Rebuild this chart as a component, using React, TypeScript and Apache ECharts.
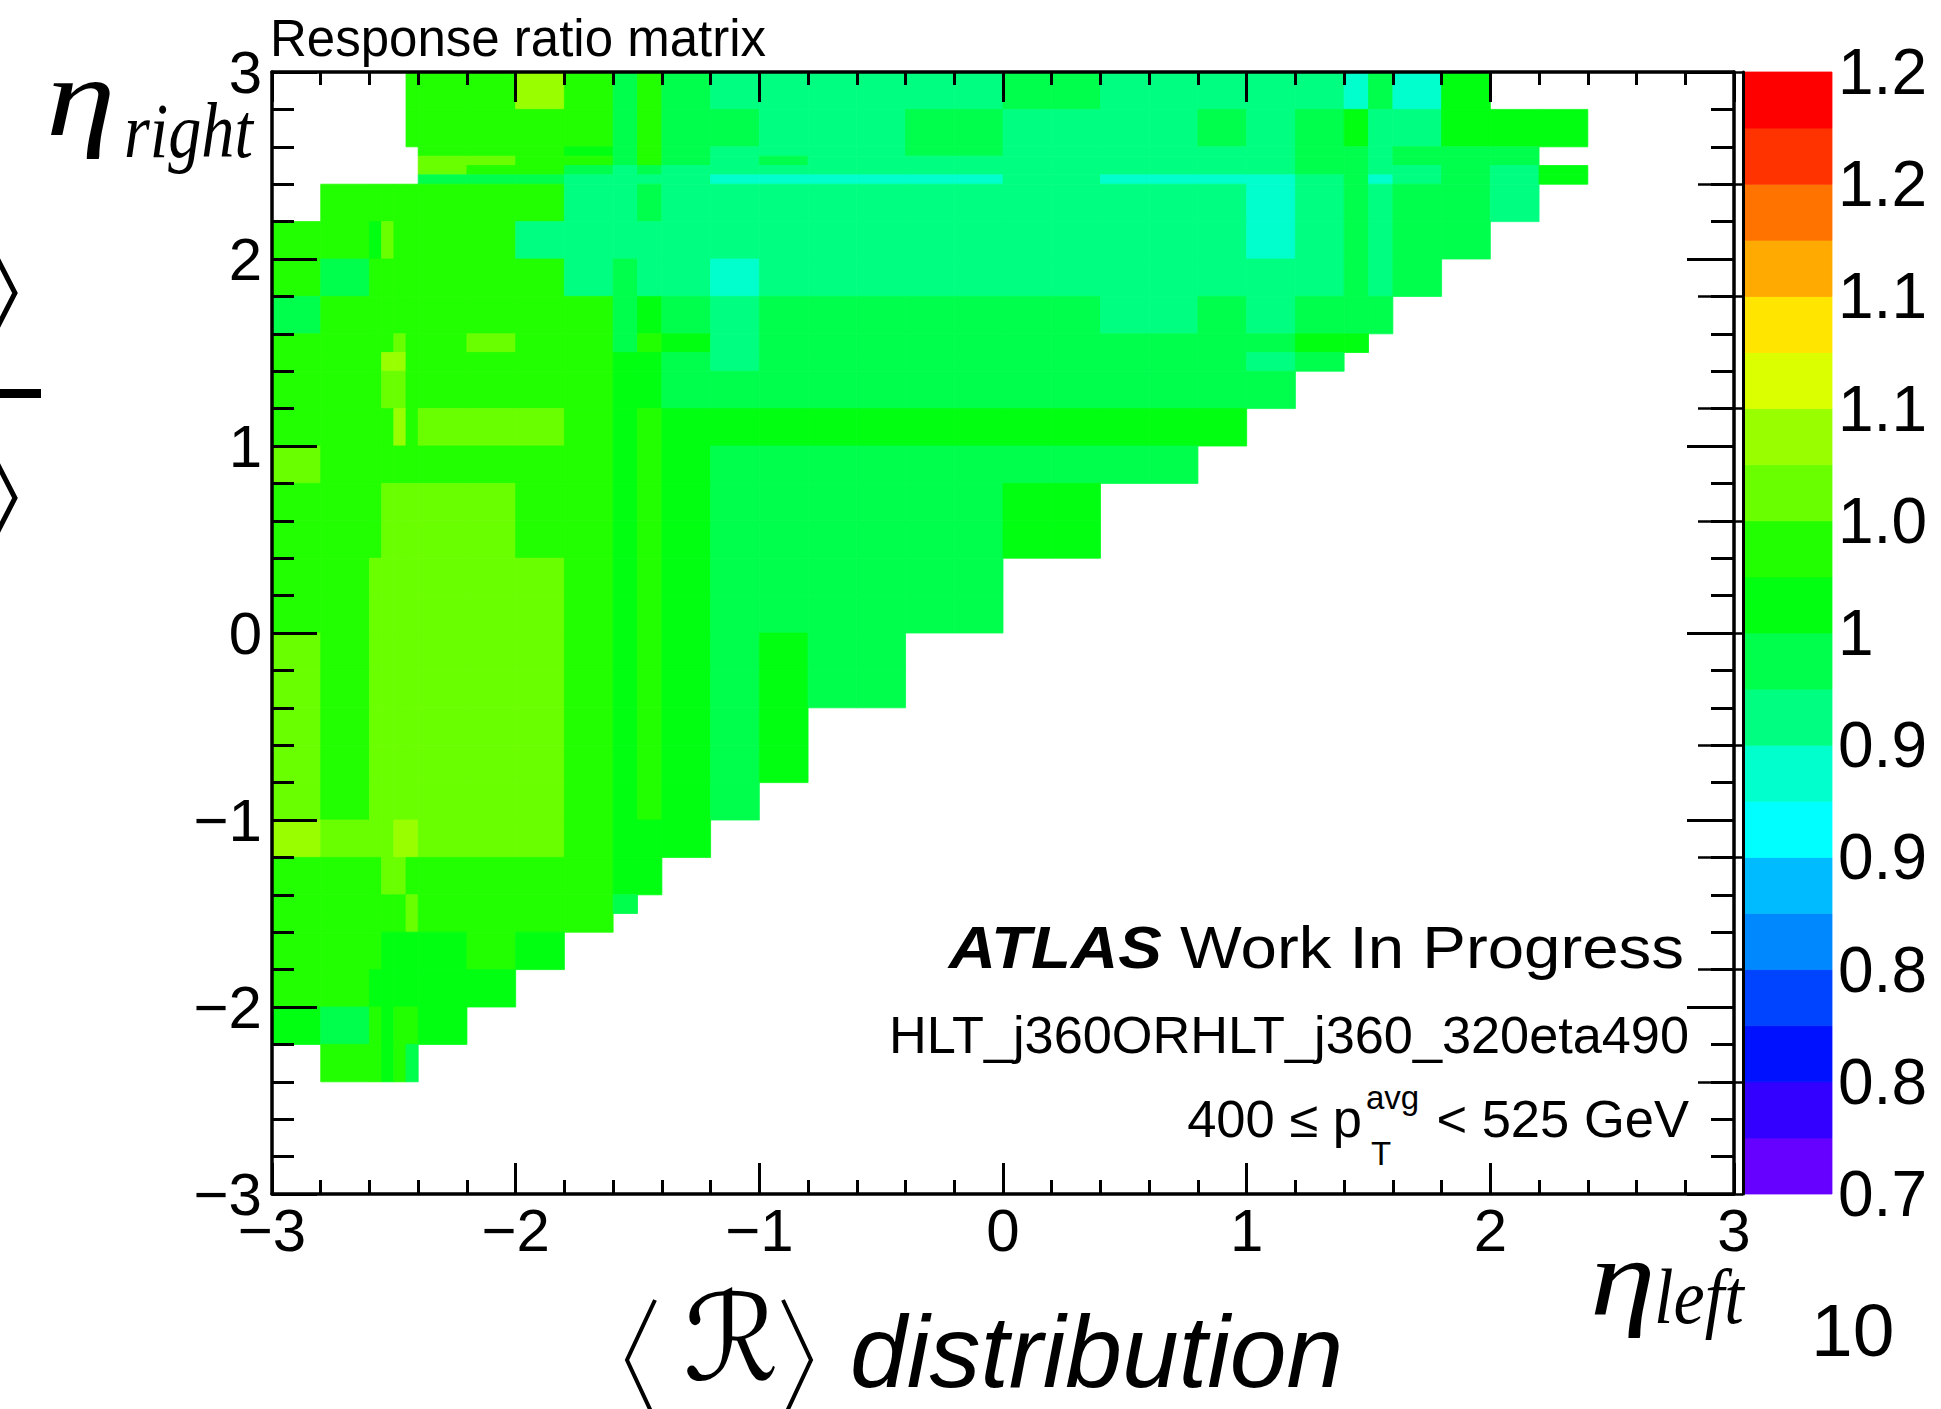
import React, { useEffect, useRef } from "react";
import * as echarts from "echarts";

// Bin edges of eta (same for eta_left and eta_right)
const ETA_EDGES = [
  -3.0, -2.8, -2.6, -2.55, -2.5, -2.45, -2.4, -2.2, -2.0, -1.8, -1.6, -1.5, -1.4,
  -1.2, -1.0, -0.8, -0.6, -0.4, -0.2, 0, 0.2, 0.4, 0.6, 0.8, 1.0, 1.2, 1.4, 1.5,
  1.6, 1.8, 2.0, 2.2, 2.4, 2.45, 2.5, 2.55, 2.6, 2.8, 3.0,
];

const n = null;
// Response ratio per cell; rows listed from eta_right = 3.0 (top) downwards,
// columns from eta_left = -3.0 rightwards (index = bin of ETA_EDGES)
const RATIO_ROWS: (number | null)[][] = [
  /* 2.8..3.0 */ [n, n, n, n, n, 1.038, 1.038, 1.038, 1.088, 1.038, 0.988, 1.038, 0.988, 0.963, 0.963, 0.963, 0.963, 0.963, 0.963, 0.988, 0.988, 0.963, 0.963, 0.963, 0.963, 0.963, 0.938, 0.988, 0.938, 1.013],
  /* 2.6..2.8 */ [n, n, n, n, n, 1.038, 1.038, 1.038, 1.038, 1.038, 0.988, 1.038, 0.988, 0.988, 0.963, 0.963, 0.963, 0.988, 0.988, 0.963, 0.963, 0.963, 0.963, 0.988, 0.963, 0.988, 1.013, 0.963, 0.963, 1.013, 1.013, 1.013],
  /* 2.55..2.6 */ [n, n, n, n, n, n, 1.038, 1.038, 1.038, 1.013, 0.988, 1.038, 0.988, 0.963, 0.963, 0.963, 0.963, 0.988, 0.988, 0.963, 0.963, 0.963, 0.963, 0.963, 0.963, 0.988, 0.988, 0.963, 0.988, 0.988, 0.988],
  /* 2.5..2.55 */ [n, n, n, n, n, n, 1.063, 1.063, 1.038, 1.038, 0.988, 1.038, 0.988, 0.963, 0.988, 0.963, 0.963, 0.963, 0.963, 0.963, 0.963, 0.963, 0.963, 0.963, 0.963, 0.988, 0.988, 0.963, 0.988, 0.988, 0.988],
  /* 2.45..2.5 */ [n, n, n, n, n, n, 1.063, 1.038, 1.038, 0.988, 0.963, 0.988, 0.963, 0.963, 0.963, 0.963, 0.963, 0.963, 0.963, 0.963, 0.963, 0.963, 0.963, 0.963, 0.963, 0.988, 0.988, 0.963, 0.963, 0.988, 0.963, 1.013],
  /* 2.4..2.45 */ [n, n, n, n, n, n, 0.988, 0.988, 0.988, 0.963, 0.963, 0.963, 0.963, 0.938, 0.938, 0.938, 0.938, 0.938, 0.938, 0.963, 0.963, 0.938, 0.938, 0.938, 0.938, 0.963, 0.988, 0.938, 0.963, 0.988, 0.963, 1.013],
  /* 2.2..2.4 */ [n, 1.038, 1.038, 1.038, 1.038, 1.038, 1.038, 1.038, 1.038, 0.963, 0.963, 0.988, 0.963, 0.963, 0.963, 0.963, 0.963, 0.963, 0.963, 0.963, 0.963, 0.963, 0.963, 0.963, 0.938, 0.963, 0.988, 0.963, 0.988, 0.988, 0.963],
  /* 2.0..2.2 */ [1.038, 1.038, 1.013, 1.063, 1.038, 1.038, 1.038, 1.038, 0.963, 0.963, 0.963, 0.963, 0.963, 0.963, 0.963, 0.963, 0.963, 0.963, 0.963, 0.963, 0.963, 0.963, 0.963, 0.963, 0.938, 0.963, 0.988, 0.963, 0.988, 0.988],
  /* 1.8..2.0 */ [1.038, 0.988, 1.038, 1.038, 1.038, 1.038, 1.038, 1.038, 1.038, 0.963, 0.988, 0.963, 0.963, 0.938, 0.963, 0.963, 0.963, 0.963, 0.963, 0.963, 0.963, 0.963, 0.963, 0.963, 0.963, 0.963, 0.988, 0.963, 0.988],
  /* 1.6..1.8 */ [0.988, 1.038, 1.038, 1.038, 1.038, 1.038, 1.038, 1.038, 1.038, 1.038, 0.988, 1.013, 0.988, 0.963, 0.988, 0.988, 0.988, 0.988, 0.988, 0.988, 0.988, 0.963, 0.963, 0.988, 0.963, 0.988, 0.988, 0.988],
  /* 1.5..1.6 */ [1.038, 1.038, 1.038, 1.038, 1.063, 1.038, 1.038, 1.063, 1.038, 1.038, 0.988, 1.038, 1.013, 0.963, 0.988, 0.988, 0.988, 0.988, 0.988, 0.988, 0.988, 0.988, 0.988, 0.988, 0.988, 1.013, 1.013],
  /* 1.4..1.5 */ [1.038, 1.038, 1.038, 1.088, 1.088, 1.038, 1.038, 1.038, 1.038, 1.038, 1.013, 1.013, 0.988, 0.963, 0.988, 0.988, 0.988, 0.988, 0.988, 0.988, 0.988, 0.988, 0.988, 0.988, 0.963, 0.988],
  /* 1.2..1.4 */ [1.038, 1.038, 1.038, 1.063, 1.063, 1.038, 1.038, 1.038, 1.038, 1.038, 1.013, 1.013, 0.988, 0.988, 0.988, 0.988, 0.988, 0.988, 0.988, 0.988, 0.988, 0.988, 0.988, 0.988, 0.988],
  /* 1.0..1.2 */ [1.038, 1.038, 1.038, 1.038, 1.088, 1.038, 1.063, 1.063, 1.063, 1.038, 1.013, 1.038, 1.013, 1.013, 1.013, 1.013, 1.013, 1.013, 1.013, 1.013, 1.013, 1.013, 1.013, 1.013],
  /* 0.8..1.0 */ [1.063, 1.038, 1.038, 1.038, 1.038, 1.038, 1.038, 1.038, 1.038, 1.038, 1.013, 1.038, 1.013, 0.988, 0.988, 0.988, 0.988, 0.988, 0.988, 0.988, 0.988, 0.988, 0.988],
  /* 0.6..0.8 */ [1.038, 1.038, 1.038, 1.063, 1.063, 1.063, 1.063, 1.063, 1.038, 1.038, 1.013, 1.038, 1.013, 0.988, 0.988, 0.988, 0.988, 0.988, 0.988, 1.013, 1.013],
  /* 0.4..0.6 */ [1.038, 1.038, 1.038, 1.063, 1.063, 1.063, 1.063, 1.063, 1.038, 1.038, 1.013, 1.038, 1.013, 0.988, 0.988, 0.988, 0.988, 0.988, 0.988, 1.013, 1.013],
  /* 0.2..0.4 */ [1.038, 1.038, 1.063, 1.063, 1.063, 1.063, 1.063, 1.063, 1.063, 1.038, 1.013, 1.038, 1.013, 0.988, 0.988, 0.988, 0.988, 0.988, 0.988],
  /* 0.0..0.2 */ [1.038, 1.038, 1.063, 1.063, 1.063, 1.063, 1.063, 1.063, 1.063, 1.038, 1.013, 1.038, 1.013, 0.988, 0.988, 0.988, 0.988, 0.988, 0.988],
  /* -0.2..0 */ [1.063, 1.038, 1.063, 1.063, 1.063, 1.063, 1.063, 1.063, 1.063, 1.038, 1.013, 1.038, 1.013, 0.988, 1.013, 0.988, 0.988],
  /* -0.4..-0.2 */ [1.063, 1.038, 1.063, 1.063, 1.063, 1.063, 1.063, 1.063, 1.063, 1.038, 1.013, 1.038, 1.013, 0.988, 1.013, 0.988, 0.988],
  /* -0.6..-0.4 */ [1.063, 1.038, 1.063, 1.063, 1.063, 1.063, 1.063, 1.063, 1.063, 1.038, 1.013, 1.038, 1.013, 0.988, 1.013],
  /* -0.8..-0.6 */ [1.063, 1.038, 1.063, 1.063, 1.063, 1.063, 1.063, 1.063, 1.063, 1.038, 1.013, 1.038, 1.013, 0.988, 1.013],
  /* -1.0..-0.8 */ [1.063, 1.038, 1.063, 1.063, 1.063, 1.063, 1.063, 1.063, 1.063, 1.038, 1.013, 1.038, 1.013, 0.988],
  /* -1.2..-1.0 */ [1.088, 1.063, 1.063, 1.063, 1.088, 1.088, 1.063, 1.063, 1.063, 1.038, 1.013, 1.013, 1.013],
  /* -1.4..-1.2 */ [1.038, 1.038, 1.038, 1.063, 1.063, 1.038, 1.038, 1.038, 1.038, 1.038, 1.013, 1.013],
  /* -1.5..-1.4 */ [1.038, 1.038, 1.038, 1.038, 1.038, 1.063, 1.038, 1.038, 1.038, 1.038, 0.988],
  /* -1.6..-1.5 */ [1.038, 1.038, 1.038, 1.038, 1.038, 1.063, 1.038, 1.038, 1.038, 1.038],
  /* -1.8..-1.6 */ [1.038, 1.038, 1.038, 1.013, 1.013, 1.013, 1.013, 1.038, 1.013],
  /* -2.0..-1.8 */ [1.038, 1.038, 1.013, 1.013, 1.013, 1.013, 1.013, 1.013],
  /* -2.2..-2.0 */ [1.013, 0.988, 1.038, 1.013, 1.038, 1.038, 1.013],
  /* -2.4..-2.2 */ [n, 1.038, 1.038, 1.013, 1.038, 0.988],
];

// Colour palette: 20 contour bands between 0.75 and 1.25 (bottom to top)
const BAND_EDGES = [
  0.75, 0.775, 0.8, 0.825, 0.85, 0.875, 0.9, 0.925, 0.95, 0.975, 1.0, 1.025, 1.05,
  1.075, 1.1, 1.125, 1.15, 1.175, 1.2, 1.225, 1.25,
];
const BAND_COLORS = [
  "#6600ff", "#3300ff", "#0011ff", "#0044ff", "#0088ff", "#00bbff", "#00ffff",
  "#00ffcc", "#00ff80", "#00ff4c", "#00ff11", "#22ff00", "#6aff00", "#99ff00",
  "#dcff00", "#ffe500", "#ffaa00", "#ff7300", "#ff3300", "#ff0000",
];
const COLORBAR_TICKS = [0.75, 0.8, 0.85, 0.9, 0.95, 1.0, 1.05, 1.1, 1.15, 1.2, 1.25];
const COLORBAR_LABELS = ["0.7", "0.8", "0.8", "0.9", "0.9", "1", "1.0", "1.1", "1.1", "1.2", "1.2"];
const AXIS_TICKS = [-3, -2, -1, 0, 1, 2, 3];
const AXIS_LABELS = ["\u22123", "\u22122", "\u22121", "0", "1", "2", "3"];

const SANS = '"Liberation Sans", Arial, Helvetica, sans-serif';
const SERIF = '"Liberation Serif", "Times New Roman", serif';

function bandColor(v: number): string {
  for (let i = 0; i < BAND_COLORS.length; i++) {
    if (v >= BAND_EDGES[i] && v < BAND_EDGES[i + 1]) return BAND_COLORS[i];
  }
  return v < BAND_EDGES[0] ? BAND_COLORS[0] : BAND_COLORS[BAND_COLORS.length - 1];
}

function axisLabel(v: number): string {
  const i = AXIS_TICKS.findIndex((t) => Math.abs(t - v) < 1e-6);
  return i >= 0 ? AXIS_LABELS[i] : "";
}

function colorbarLabel(v: number): string {
  const i = COLORBAR_TICKS.findIndex((t) => Math.abs(t - v) < 1e-6);
  return i >= 0 ? COLORBAR_LABELS[i] : "";
}

function buildCells() {
  const nb = ETA_EDGES.length - 1;
  const cells: number[][] = [];
  RATIO_ROWS.forEach((row, i) => {
    const b = nb - 1 - i;
    row.forEach((v, c) => {
      if (v === null || v === undefined) return;
      cells.push([ETA_EDGES[c], ETA_EDGES[c + 1], ETA_EDGES[b], ETA_EDGES[b + 1], v]);
    });
  });
  return cells;
}

function buildBands() {
  return BAND_COLORS.map((_, i) => [0, 1, BAND_EDGES[i], BAND_EDGES[i + 1], i]);
}

const rectItem = (api: any, x0: number, x1: number, y0: number, y1: number, color: string) => {
  const p0 = api.coord([x0, y1]);
  const p1 = api.coord([x1, y0]);
  return {
    type: "rect",
    shape: { x: p0[0], y: p0[1], width: p1[0] - p0[0], height: p1[1] - p0[1] },
    style: { fill: color, stroke: color, lineWidth: 0.8 },
  };
};

const frameAxis = (extra: any) => ({
  type: "value",
  min: -3,
  max: 3,
  interval: 1,
  z: 10,
  axisLine: { show: true, onZero: false, lineStyle: { color: "#000", width: 3.5 } },
  splitLine: { show: false },
  ...extra,
});

const txt = (x: number, y: number, text: string, font: any, align = "left", extra: any = {}) => ({
  type: "text",
  x,
  y,
  ...extra,
  style: {
    text,
    fill: "#000",
    align,
    textAlign: align,
    verticalAlign: "middle",
    textVerticalAlign: "middle",
    ...font,
  },
});

export default function App() {
  const ref = useRef<HTMLDivElement>(null);

  useEffect(() => {
    if (!ref.current) return;
    const chart = echarts.init(ref.current, undefined, { renderer: "svg" });
    const labelStyle = { fontFamily: SANS, fontSize: 60, lineHeight: 48, color: "#000" };

    const option: any = {
      animation: false,
      backgroundColor: "#ffffff",
      grid: [
        { left: 272, top: 72, width: 1462, height: 1122 },
        { left: 1743, top: 72, width: 89, height: 1122 },
      ],
      xAxis: [
        frameAxis({
          gridIndex: 0,
          position: "bottom",
          axisTick: { show: true, inside: true, length: 31, lineStyle: { color: "#000", width: 3 } },
          minorTick: { show: true, splitNumber: 5, length: 14, lineStyle: { color: "#000", width: 3 } },
          axisLabel: { ...labelStyle, margin: 12, showMinLabel: true, showMaxLabel: true, formatter: axisLabel },
        }),
        frameAxis({
          gridIndex: 0,
          position: "top",
          axisTick: { show: true, inside: true, length: 30, lineStyle: { color: "#000", width: 3 } },
          minorTick: { show: true, splitNumber: 5, length: 13, lineStyle: { color: "#000", width: 3 } },
          axisLabel: { show: false },
        }),
        { gridIndex: 1, type: "value", min: 0, max: 1, show: false },
      ],
      yAxis: [
        frameAxis({
          gridIndex: 0,
          position: "left",
          axisTick: { show: true, inside: true, length: 45, lineStyle: { color: "#000", width: 3 } },
          minorTick: { show: true, splitNumber: 5, length: 22, lineStyle: { color: "#000", width: 3 } },
          axisLabel: { ...labelStyle, margin: 10, showMinLabel: true, showMaxLabel: true, formatter: axisLabel },
        }),
        frameAxis({
          gridIndex: 0,
          position: "right",
          axisTick: { show: true, inside: true, length: 47, lineStyle: { color: "#000", width: 3 } },
          minorTick: { show: true, splitNumber: 5, length: 23, lineStyle: { color: "#000", width: 3 } },
          axisLabel: { show: false },
        }),
        {
          gridIndex: 1,
          type: "value",
          position: "right",
          min: 0.75,
          max: 1.25,
          interval: 0.05,
          z: 10,
          axisLine: { show: true, lineStyle: { color: "#000", width: 3 } },
          axisTick: { show: true, inside: true, length: 45, lineStyle: { color: "#000", width: 2.5 } },
          splitLine: { show: false },
          axisLabel: { ...labelStyle, fontSize: 64, margin: 6, showMinLabel: true, showMaxLabel: true, formatter: colorbarLabel },
        },
      ],
      series: [
        {
          type: "custom",
          name: "ratio",
          xAxisIndex: 0,
          yAxisIndex: 0,
          clip: true,
          z: 2,
          encode: { x: [0, 1], y: [2, 3] },
          data: buildCells(),
          renderItem: (_p: any, api: any) =>
            rectItem(api, api.value(0), api.value(1), api.value(2), api.value(3), bandColor(api.value(4))),
        },
        {
          type: "custom",
          name: "palette",
          xAxisIndex: 2,
          yAxisIndex: 2,
          z: 2,
          encode: { x: [0, 1], y: [2, 3] },
          data: buildBands(),
          renderItem: (_p: any, api: any) =>
            rectItem(api, api.value(0), api.value(1), api.value(2), api.value(3), BAND_COLORS[api.value(4)]),
        },
      ],
      graphic: [
        // title
        txt(270, 38, "Response ratio matrix", { fontFamily: SANS, fontSize: 51, lineHeight: 44 }),
        // slide fragments on the left edge
        { type: "polyline", shape: { points: [[-3, 258], [15, 293], [-3, 328]] }, style: { stroke: "#000", lineWidth: 5, fill: null } },
        { type: "rect", shape: { x: 0, y: 389, width: 41, height: 9 }, style: { fill: "#000" } },
        { type: "polyline", shape: { points: [[-3, 463], [15, 498], [-3, 533]] }, style: { stroke: "#000", lineWidth: 5, fill: null } },
        // eta_right
        txt(46, 97, "\u03b7", { fontFamily: SERIF, fontStyle: "italic", fontSize: 112, lineHeight: 70 }, "left", { scaleX: 1.25 }),
        txt(124, 131, "right", { fontFamily: SERIF, fontStyle: "italic", fontSize: 78, lineHeight: 54 }, "left", { scaleX: 0.85 }),
        // eta_left
        txt(1590, 1278, "\u03b7", { fontFamily: SERIF, fontStyle: "italic", fontSize: 110, lineHeight: 70 }, "left", { scaleX: 1.2 }),
        txt(1654, 1297, "left", { fontFamily: SERIF, fontStyle: "italic", fontSize: 78, lineHeight: 54 }, "left", { scaleX: 0.9 }),
        // annotations
        {
          type: "text",
          x: 1684,
          y: 947,
          scaleX: 1.09,
          style: {
            text: "{b|ATLAS} Work In Progress",
            fill: "#000",
            align: "right",
            textAlign: "right",
            verticalAlign: "middle",
            textVerticalAlign: "middle",
            fontFamily: SANS,
            fontSize: 60,
            rich: { b: { fontFamily: SANS, fontSize: 60, fontWeight: "bold", fontStyle: "italic", fill: "#000" } },
          },
        },
        txt(1689, 1035, "HLT_j360ORHLT_j360_320eta490", { fontFamily: SANS, fontSize: 51 }, "right", { scaleX: 1.025 }),
        txt(1362, 1119, "400 \u2264 p", { fontFamily: SANS, fontSize: 51 }, "right", { scaleX: 1.03 }),
        txt(1366, 1097, "avg", { fontFamily: SANS, fontSize: 33 }),
        txt(1371, 1153, "T", { fontFamily: SANS, fontSize: 33 }),
        txt(1689, 1119, "< 525 GeV", { fontFamily: SANS, fontSize: 51 }, "right", { scaleX: 1.03 }),
        // bottom slide caption
        { type: "polyline", shape: { points: [[655, 1300], [627, 1360], [655, 1420]] }, style: { stroke: "#000", lineWidth: 4, fill: null } },
        txt(731, 1338, "\u211b", { fontFamily: '"DejaVu Serif", "DejaVu Sans", serif', fontSize: 120, lineHeight: 96 }, "center"),
        { type: "polyline", shape: { points: [[783, 1300], [811, 1360], [783, 1420]] }, style: { stroke: "#000", lineWidth: 4, fill: null } },
        txt(850, 1352, "distribution", { fontFamily: SANS, fontStyle: "italic", fontSize: 102, lineHeight: 90 }),
        // page number
        txt(1811, 1330, "10", { fontFamily: SANS, fontSize: 75, lineHeight: 60 }),
      ],
    };

    chart.setOption(option);
    return () => chart.dispose();
  }, []);

  return (
    <div
      ref={ref}
      style={{ position: "absolute", left: 0, top: 0, width: 1941, height: 1409, background: "#fff" }}
    />
  );
}
